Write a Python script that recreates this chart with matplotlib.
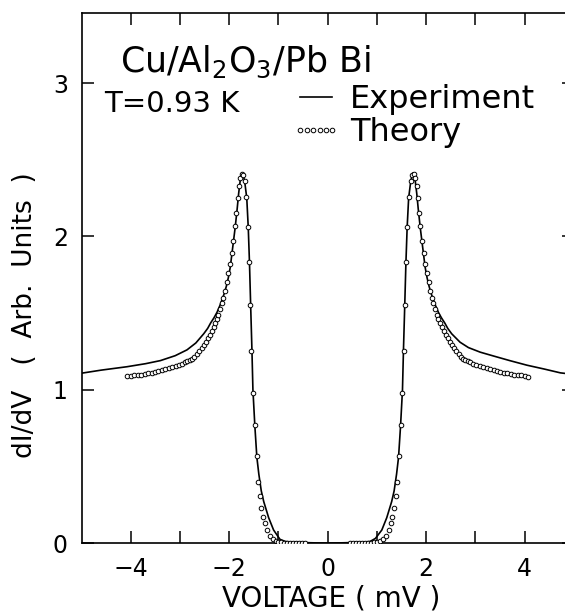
import numpy as np
import matplotlib
matplotlib.use("Agg")
from matplotlib import pyplot as plt

plt.rcParams['font.family'] = ['DejaVu Sans']

# experiment (solid line)
exp_v_left = [-5.00, -4.60, -4.08, -3.70, -3.40, -3.10, -2.86, -2.68, -2.52, -2.44,
              -2.38, -2.31, -2.25, -2.19, -2.15, -2.10, -2.06, -2.02, -1.98, -1.93,
              -1.88, -1.84, -1.81, -1.78, -1.755, -1.735, -1.71, -1.68, -1.645, -1.615,
              -1.59, -1.565, -1.54, -1.52, -1.48, -1.44, -1.40, -1.35, -1.30, -1.20,
              -1.10, -0.97, -0.86, -0.76, -0.50, -0.25, 0.00]
exp_g_left = [1.108, 1.128, 1.150, 1.170, 1.190, 1.222, 1.260, 1.305, 1.365, 1.400,
              1.435, 1.470, 1.505, 1.550, 1.585, 1.630, 1.675, 1.730, 1.800, 1.930,
              2.060, 2.180, 2.280, 2.360, 2.405, 2.415, 2.395, 2.340, 2.250, 2.060,
              1.830, 1.540, 1.260, 1.000, 0.760, 0.560, 0.450, 0.340, 0.270, 0.165,
              0.085, 0.024, 0.010, 0.007, 0.003, 0.001, 0.000]
exp_v_right = [0.25, 0.50, 0.76, 0.86, 0.97, 1.10, 1.20, 1.30, 1.35, 1.40,
               1.44, 1.48, 1.52, 1.54, 1.565, 1.59, 1.615, 1.645, 1.68, 1.71,
               1.735, 1.755, 1.78, 1.81, 1.84, 1.88, 1.93, 1.98, 2.02, 2.06,
               2.10, 2.15, 2.19, 2.25, 2.31, 2.38, 2.44, 2.52, 2.69, 2.86,
               3.10, 3.37, 3.70, 4.05, 4.40, 4.73, 5.00]
exp_g_right = [0.001, 0.003, 0.007, 0.010, 0.030, 0.085, 0.165, 0.270, 0.340, 0.450,
               0.560, 0.760, 1.000, 1.260, 1.540, 1.830, 2.060, 2.250, 2.340, 2.395,
               2.415, 2.405, 2.360, 2.280, 2.180, 2.060, 1.930, 1.800, 1.730, 1.675,
               1.630, 1.585, 1.550, 1.505, 1.470, 1.435, 1.400, 1.365, 1.310, 1.275,
               1.245, 1.220, 1.190, 1.160, 1.135, 1.110, 1.100]

# theory (open circles)
th_v_left = [-4.07, -4.00, -3.93, -3.86, -3.79, -3.72, -3.65, -3.58, -3.51, -3.44,
             -3.37, -3.30, -3.23, -3.16, -3.09, -3.02, -2.96, -2.90, -2.85, -2.80,
             -2.75, -2.71, -2.66, -2.61, -2.56, -2.52, -2.48, -2.44, -2.40, -2.36,
             -2.32, -2.29, -2.25, -2.22, -2.18, -2.15, -2.12, -2.08, -2.05, -2.02,
             -1.98, -1.95, -1.915, -1.88, -1.86, -1.83, -1.81, -1.78, -1.75, -1.72,
             -1.69, -1.66, -1.62, -1.60, -1.575, -1.55, -1.52, -1.48, -1.44, -1.41,
             -1.385, -1.35, -1.31, -1.28, -1.24, -1.18, -1.12, -1.06, -1.00, -0.94,
             -0.88, -0.82, -0.76, -0.70, -0.64, -0.58, -0.52, -0.46]
th_g_left = [1.088, 1.090, 1.093, 1.096, 1.099, 1.103, 1.107, 1.111, 1.116, 1.121,
             1.127, 1.133, 1.140, 1.147, 1.155, 1.163, 1.171, 1.179, 1.187, 1.193,
             1.199, 1.216, 1.234, 1.253, 1.270, 1.292, 1.314, 1.336, 1.360, 1.384,
             1.408, 1.434, 1.460, 1.490, 1.525, 1.565, 1.600, 1.645, 1.700, 1.760,
             1.820, 1.890, 1.970, 2.065, 2.150, 2.250, 2.330, 2.380, 2.410, 2.400,
             2.360, 2.260, 2.060, 1.830, 1.550, 1.250, 0.980, 0.770, 0.565, 0.400,
             0.310, 0.230, 0.170, 0.130, 0.085, 0.048, 0.026, 0.014, 0.008, 0.005,
             0.003, 0.002, 0.001, 0.001, 0.000, 0.000, 0.000, 0.000]
th_v_right = [0.46, 0.52, 0.58, 0.64, 0.70, 0.76, 0.82, 0.88, 0.94, 1.00,
              1.06, 1.12, 1.18, 1.24, 1.28, 1.31, 1.35, 1.385, 1.41, 1.44,
              1.48, 1.52, 1.55, 1.575, 1.60, 1.62, 1.66, 1.69, 1.72, 1.75,
              1.78, 1.81, 1.83, 1.86, 1.88, 1.915, 1.95, 1.98, 2.02, 2.05,
              2.08, 2.12, 2.15, 2.18, 2.22, 2.25, 2.29, 2.32, 2.36, 2.40,
              2.44, 2.48, 2.52, 2.56, 2.61, 2.66, 2.71, 2.75, 2.80, 2.85,
              2.90, 2.96, 3.02, 3.09, 3.16, 3.23, 3.30, 3.37, 3.44, 3.51,
              3.58, 3.65, 3.72, 3.79, 3.86, 3.93, 4.00, 4.07]
th_g_right = [0.000, 0.000, 0.000, 0.000, 0.001, 0.001, 0.002, 0.003, 0.005, 0.008,
              0.014, 0.026, 0.048, 0.085, 0.130, 0.170, 0.230, 0.310, 0.400, 0.565,
              0.770, 0.980, 1.250, 1.550, 1.830, 2.060, 2.260, 2.360, 2.400, 2.410,
              2.380, 2.330, 2.250, 2.150, 2.065, 1.970, 1.890, 1.820, 1.760, 1.700,
              1.645, 1.600, 1.565, 1.525, 1.490, 1.460, 1.434, 1.408, 1.384, 1.360,
              1.336, 1.314, 1.292, 1.270, 1.253, 1.234, 1.216, 1.199, 1.193, 1.187,
              1.179, 1.171, 1.163, 1.155, 1.147, 1.140, 1.133, 1.127, 1.121, 1.116,
              1.111, 1.107, 1.103, 1.099, 1.096, 1.093, 1.090, 1.085]

xticks = [-4, -3, -2, -1, 0, 1, 2, 3, 4]
xtick_labels = ["\u22124", "", "\u22122", "", "0", "", "2", "", "4"]
yticks = [0, 1, 2, 3]
ytick_labels = ["0", "1", "2", "3"]

fig = plt.figure(figsize=(5.65, 6.12), dpi=100)
ax = fig.add_axes([0.1446, 0.1127, 0.8708, 0.8667])

exp_v = exp_v_left + exp_v_right
exp_g = exp_g_left + exp_g_right
th_v = th_v_left + th_v_right
th_g = th_g_left + th_g_right

l1, = ax.plot(exp_v, exp_g, color="black", lw=1.2, zorder=2)
l2, = ax.plot(th_v, th_g, ls="none", marker="o", ms=3.3, mfc="white",
              mec="black", mew=0.7, zorder=3)

ax.set_xlim(-5, 5)
ax.set_ylim(0, 3.46)
ax.set_xticks(xticks)
ax.set_xticklabels(xtick_labels)
ax.set_yticks(yticks)
ax.set_yticklabels(ytick_labels)
ax.tick_params(direction="in", length=8.5, width=1.1, top=True, right=True,
               labelsize=17, pad=10)
for s in ax.spines.values():
    s.set_linewidth(1.2)

ax.set_xlabel("VOLTAGE ( mV )", fontsize=20)
ax.xaxis.set_label_coords(0.507, -0.078)
ax.set_ylabel("dI/dV   (  Arb.  Units  )", fontsize=19)
ax.yaxis.set_label_coords(-0.088, 0.43)

ax.text(0.078, 0.888, "Cu/Al$_2$O$_3$/Pb Bi", transform=ax.transAxes,
        fontsize=25, ha="left", va="baseline")
ax.text(0.045, 0.812, "T=0.93 K", transform=ax.transAxes,
        fontsize=21, ha="left", va="baseline")

ax.legend([l1, l2], ["Experiment", "Theory"], loc="upper left",
          bbox_to_anchor=(0.425, 0.865), frameon=False, fontsize=23,
          numpoints=6, handlelength=1.6, handletextpad=0.25,
          labelspacing=0.05, borderpad=0, borderaxespad=0)

fig.savefig("out.png", dpi=100)
